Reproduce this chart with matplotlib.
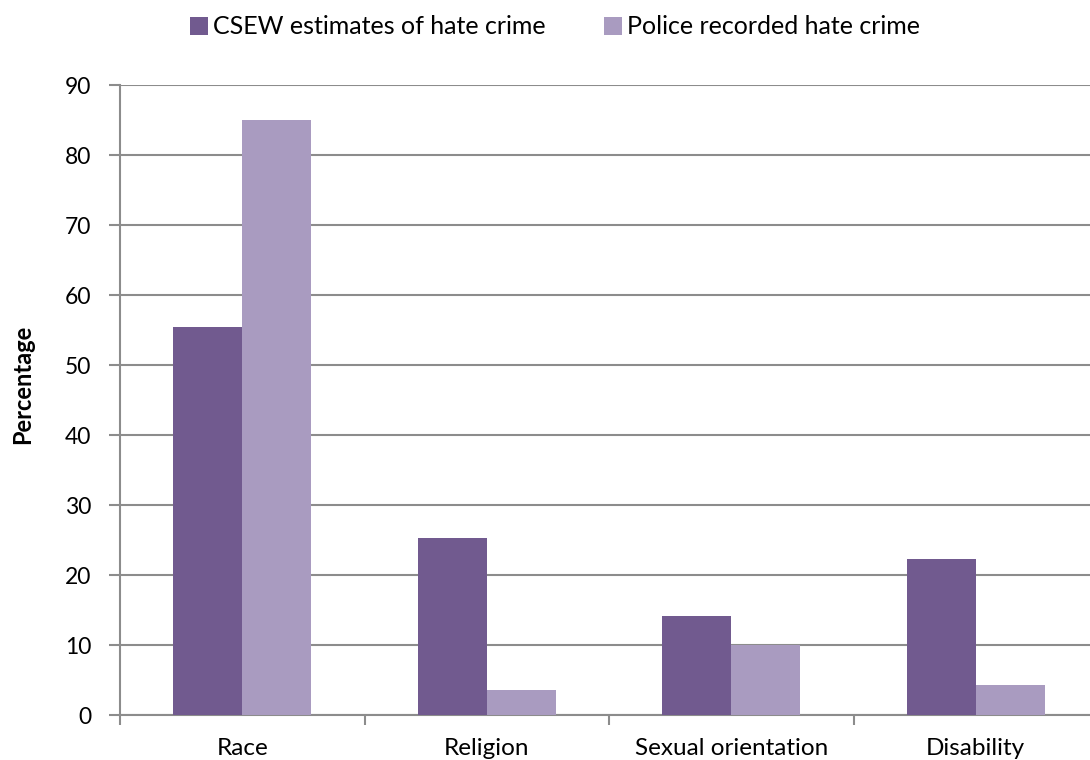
import matplotlib
matplotlib.use("Agg")
import matplotlib.pyplot as plt
import numpy as np

categories = ["Race", "Religion", "Sexual orientation", "Disability"]
csew = [55.4, 25.3, 14.2, 22.3]
police = [85.0, 3.6, 10.0, 4.3]
series_names = ["CSEW estimates of hate crime", "Police recorded hate crime"]
yticks = [0, 10, 20, 30, 40, 50, 60, 70, 80, 90]

plt.rcParams['font.family'] = ['Lato', 'DejaVu Sans']

fig = plt.figure(figsize=(10.9, 7.6), dpi=100)
ax = fig.add_axes([120/1090, 1-715/760, 978/1090, 630/760])

x = np.arange(len(categories))
w = 0.283
c1 = "#715A8F"
c2 = "#A99BC0"
b1 = ax.bar(x - w/2, csew, w, color=c1, label=series_names[0], zorder=3)
b2 = ax.bar(x + w/2, police, w, color=c2, label=series_names[1], zorder=3)

ax.set_xlim(-0.5, len(categories) - 0.5)
ax.set_ylim(0, 90)
ax.set_yticks(yticks)
ax.set_yticklabels([str(t) for t in yticks], fontsize=16.5)
ax.yaxis.grid(True, color="#8C8C8C", linewidth=1.5, zorder=0)
ax.set_axisbelow(True)

ax.set_xticks(x)
ax.set_xticklabels(categories, fontsize=17.5)
ax.tick_params(axis='x', length=0, pad=16.5)
ax.set_xticks(np.arange(-0.5, len(categories) + 0.5, 1), minor=True)
ax.tick_params(axis='x', which='minor', length=7, color="#8C8C8C", width=1.5)
ax.tick_params(axis='y', length=8, color="#8C8C8C", width=1.5, pad=12.5)

for s in ["top", "right"]:
    ax.spines[s].set_visible(False)
for s in ["left", "bottom"]:
    ax.spines[s].set_color("#8C8C8C")
    ax.spines[s].set_linewidth(1.5)

ax.set_ylabel("Percentage", fontsize=17, fontweight="bold")
ax.yaxis.set_label_coords(34/1090, (760-384)/760, transform=fig.transFigure)

fig.legend(handles=[b1, b2], loc="center", bbox_to_anchor=(555/1090, 1-27/760),
           ncol=2, frameon=False, fontsize=18, handlelength=0.75, handleheight=0.75,
           handletextpad=0.2, columnspacing=2.3)

fig.savefig("out.png", dpi=100)
